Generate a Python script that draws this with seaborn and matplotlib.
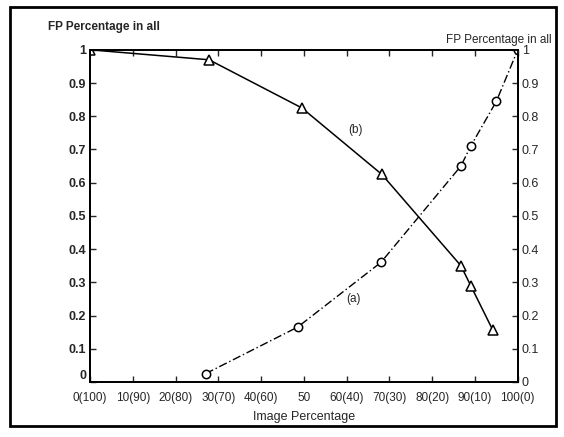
import matplotlib
matplotlib.use("Agg")
import matplotlib.pyplot as plt
import seaborn as sns
import pandas as pd
from matplotlib.patches import Rectangle

sns.set_style("ticks")
plt.rcParams['font.family'] = ['Liberation Sans', 'DejaVu Sans']

# Curve (b): left axis
b_x = [0, 27.8, 49.5, 68.2, 86.7, 89.0, 94.2]
b_y = [1.0, 0.97, 0.825, 0.625, 0.35, 0.29, 0.155]
# Curve (a): right axis
a_x = [27.0, 48.5, 68.0, 86.7, 89.0, 95.0, 100.0]
a_y = [0.025, 0.165, 0.36, 0.65, 0.71, 0.845, 1.0]

x_ticks = [0, 10, 20, 30, 40, 50, 60, 70, 80, 90, 100]
x_tick_labels = ["0(100)", "10(90)", "20(80)", "30(70)", "40(60)", "50",
                 "60(40)", "70(30)", "80(20)", "90(10)", "100(0)"]
y_ticks = [0, 0.1, 0.2, 0.3, 0.4, 0.5, 0.6, 0.7, 0.8, 0.9, 1]
y_tick_labels = ["0", "0.1", "0.2", "0.3", "0.4", "0.5", "0.6", "0.7", "0.8", "0.9", "1"]

df_b = pd.DataFrame({"x": b_x, "y": b_y})
df_a = pd.DataFrame({"x": a_x, "y": a_y})

fig = plt.figure(figsize=(5.64, 4.37), dpi=100)
ax = fig.add_axes([0.16, 0.126, 0.758, 0.76])
ax2 = ax.twinx()

sns.lineplot(data=df_b, x="x", y="y", ax=ax, color="black", lw=1.1,
             marker="^", markersize=7, markerfacecolor="white",
             markeredgecolor="black", markeredgewidth=1.1)
sns.lineplot(data=df_a, x="x", y="y", ax=ax2, color="black", lw=1.0,
             linestyle=(0, (6, 2, 1, 2)),
             marker="o", markersize=6, markerfacecolor="white",
             markeredgecolor="black", markeredgewidth=1.1)

for a in (ax, ax2):
    a.set_xlim(0, 100)
    a.set_ylim(0, 1)
    a.set_xlabel("")
    a.set_ylabel("")
    for s in a.spines.values():
        s.set_linewidth(1.3)
        s.set_color("black")

ax.set_xticks(x_ticks)
ax.set_xticklabels(x_tick_labels, fontsize=8.5)
ax.set_yticks(y_ticks)
ax.set_yticklabels(y_tick_labels, fontsize=9, fontweight="bold")
ax2.set_yticks(y_ticks)
ax2.set_yticklabels(y_tick_labels, fontsize=9)
ax.tick_params(axis="y", direction="in", length=4, width=1, pad=3)
ax.tick_params(axis="x", direction="in", length=4, width=1, top=True, pad=7)
ax2.tick_params(axis="y", direction="in", length=4, width=1, pad=3)

# lift the left "0" slightly, as in the reference
ax.get_yticklabels()[0].set_verticalalignment("bottom")

ax.text(-0.098, 1.05, "FP Percentage in all", transform=ax.transAxes,
        fontsize=8.5, fontweight="bold", ha="left", va="bottom")
ax2.text(1.079, 1.01, "FP Percentage in all", transform=ax2.transAxes,
         fontsize=8.5, ha="right", va="bottom")
ax.set_xlabel("Image Percentage", fontsize=9, labelpad=5)

ax.text(62, 0.76, "(b)", fontsize=8.5, ha="center", va="center")
ax2.text(61.5, 0.25, "(a)", fontsize=8.5, ha="center", va="center")

fig.patches.append(Rectangle((0.018, 0.025), 0.968, 0.958, transform=fig.transFigure,
                             fill=False, edgecolor="black", lw=2.0))

fig.savefig("out.png", dpi=100)
